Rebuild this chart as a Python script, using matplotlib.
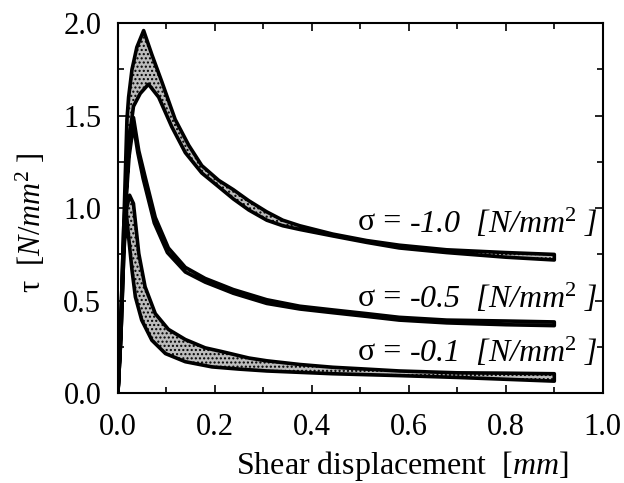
import numpy as np
import matplotlib
matplotlib.use("Agg")
import matplotlib.pyplot as plt
from matplotlib.ticker import MultipleLocator

plt.rcParams['font.family'] = ['Liberation Serif', 'DejaVu Serif']
plt.rcParams['mathtext.fontset'] = 'custom'
plt.rcParams['mathtext.rm'] = 'Liberation Serif'
plt.rcParams['mathtext.it'] = 'Liberation Serif:italic'

# sigma = -1.0 band (upper / lower edge)
x_10_hi = [0.0, 0.005, 0.012, 0.0186, 0.022, 0.029, 0.039, 0.053, 0.07, 0.091, 0.118,
           0.146, 0.173, 0.208, 0.238, 0.27, 0.307, 0.34, 0.375, 0.443, 0.513, 0.58,
           0.678, 0.8, 0.9]
y_10_hi = [0.0, 0.3, 0.9, 1.48, 1.60, 1.75, 1.87, 1.96, 1.83, 1.68, 1.48,
           1.34, 1.23, 1.15, 1.10, 1.04, 0.98, 0.935, 0.905, 0.86, 0.825, 0.80,
           0.775, 0.76, 0.75]
x_10_lo = [0.0, 0.006, 0.014, 0.022, 0.032, 0.046, 0.063, 0.084, 0.111, 0.139, 0.173,
           0.208, 0.238, 0.27, 0.307, 0.34, 0.375, 0.443, 0.513, 0.58, 0.678, 0.8, 0.9]
y_10_lo = [0.0, 0.3, 0.9, 1.35, 1.55, 1.62, 1.67, 1.60, 1.44, 1.30, 1.19,
           1.115, 1.05, 0.99, 0.935, 0.905, 0.885, 0.85, 0.815, 0.785, 0.76, 0.735, 0.72]

# sigma = -0.5 band
x_05_hi = [0.0, 0.005, 0.012, 0.022, 0.032, 0.043, 0.056, 0.077, 0.104, 0.139, 0.18,
           0.214, 0.238, 0.307, 0.375, 0.443, 0.513, 0.58, 0.678, 0.8, 0.9]
y_05_hi = [0.0, 0.3, 0.9, 1.30, 1.49, 1.31, 1.17, 0.95, 0.785, 0.68, 0.62,
           0.585, 0.56, 0.505, 0.47, 0.45, 0.43, 0.41, 0.395, 0.39, 0.385]
x_05_lo = [0.0, 0.006, 0.013, 0.023, 0.032, 0.041, 0.052, 0.075, 0.102, 0.139, 0.18,
           0.214, 0.238, 0.307, 0.375, 0.443, 0.513, 0.58, 0.678, 0.8, 0.9]
y_05_lo = [0.0, 0.3, 0.9, 1.28, 1.45, 1.30, 1.16, 0.92, 0.76, 0.655, 0.60,
           0.565, 0.54, 0.485, 0.455, 0.435, 0.415, 0.395, 0.38, 0.37, 0.365]

# sigma = -0.1 band
x_01_hi = [0.0, 0.006, 0.012, 0.018, 0.024, 0.032, 0.043, 0.056, 0.077, 0.104, 0.139,
           0.18, 0.214, 0.27, 0.307, 0.375, 0.443, 0.513, 0.58, 0.7, 0.8, 0.9]
y_01_hi = [0.0, 0.3, 0.75, 1.0, 1.07, 1.025, 0.755, 0.575, 0.43, 0.345, 0.29,
           0.245, 0.225, 0.19, 0.175, 0.155, 0.14, 0.13, 0.12, 0.11, 0.108, 0.105]
x_01_lo = [0.0, 0.005, 0.011, 0.017, 0.022, 0.029, 0.036, 0.049, 0.07, 0.098, 0.139,
           0.194, 0.25, 0.307, 0.443, 0.58, 0.7, 0.8, 0.9]
y_01_lo = [0.0, 0.3, 0.75, 0.98, 0.845, 0.665, 0.52, 0.395, 0.286, 0.214, 0.17,
           0.142, 0.13, 0.12, 0.105, 0.095, 0.085, 0.075, 0.065]

sigma_vals = ["-1.0", "-0.5", "-0.1"]
label_y = [0.92, 0.51, 0.22]

fig = plt.figure(figsize=(6.24, 4.83), dpi=100)
ax = fig.add_axes([0.189, 0.186, 0.777, 0.766])

bands = [(x_10_hi, y_10_hi, x_10_lo, y_10_lo),
         (x_05_hi, y_05_hi, x_05_lo, y_05_lo),
         (x_01_hi, y_01_hi, x_01_lo, y_01_lo)]
for xh, yh, xl, yl in bands:
    px = np.concatenate([xh, xl[::-1]])
    py = np.concatenate([yh, yl[::-1]])
    ax.fill(px, py, facecolor='#bcbcbc', edgecolor='black', linewidth=2.6,
            hatch='....', joinstyle='round')

# curve labels: italic value + unit, upright sigma in front
for val, yy in zip(sigma_vals, label_y):
    t = ax.text(0.99, yy, val + r"  [N/mm$^{2}$ ]", fontsize=23, style='italic',
                ha='right', va='center')
    ax.annotate("σ = ", xy=(0, 0.5), xycoords=t, fontsize=23,
                ha='right', va='center')

ax.set_xlim(0, 1.0)
ax.set_ylim(0, 2.0)
ax.xaxis.set_major_locator(MultipleLocator(0.2))
ax.xaxis.set_minor_locator(MultipleLocator(0.1))
ax.yaxis.set_major_locator(MultipleLocator(0.5))
ax.yaxis.set_minor_locator(MultipleLocator(0.25))
ax.xaxis.set_major_formatter(plt.FormatStrFormatter('%.1f'))
ax.yaxis.set_major_formatter(plt.FormatStrFormatter('%.1f'))
ax.tick_params(which='both', direction='in', top=True, right=True, width=1.2)
ax.tick_params(which='major', length=6, labelsize=22)
ax.tick_params(axis='x', which='major', pad=14)
ax.tick_params(axis='y', which='major', pad=12)
ax.tick_params(which='minor', length=4)
for s in ax.spines.values():
    s.set_linewidth(1.5)

ax.set_xlabel(r"Shear displacement  $\mathit{[mm]}$", fontsize=23)
ax.set_ylabel(r"τ  $\mathit{[N/mm^2\ ]}$", fontsize=22)
ax.xaxis.set_label_coords(0.586, -0.15)
ax.yaxis.set_label_coords(-0.145, 0.46)

fig.savefig("out.png", dpi=100)
